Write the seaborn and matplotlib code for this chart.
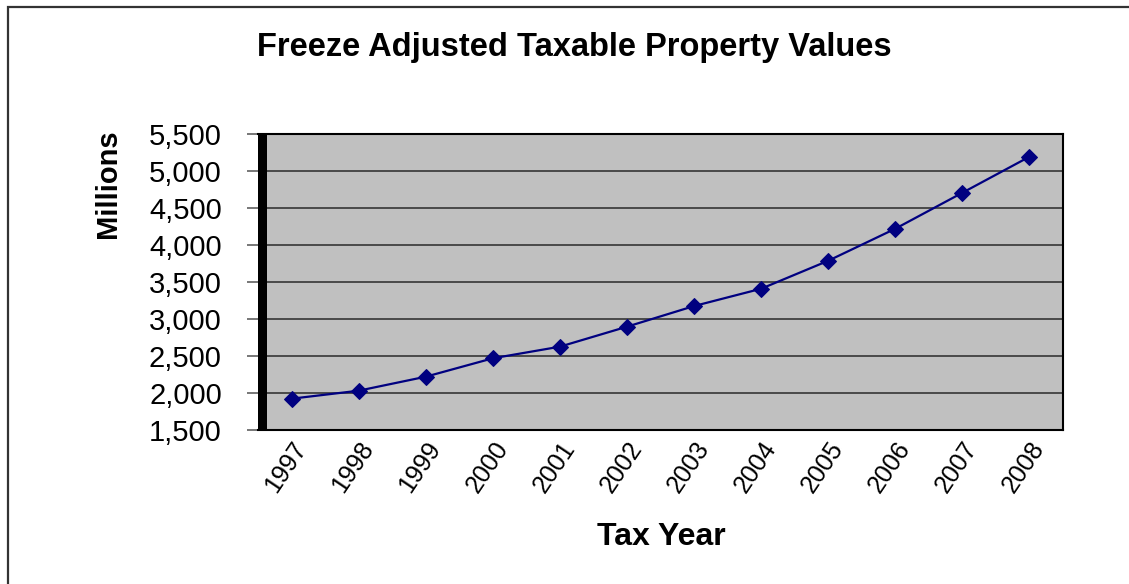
import numpy as np
import pandas as pd
import matplotlib
matplotlib.use("Agg")
import matplotlib.pyplot as plt
import matplotlib.ticker as mticker
from matplotlib.patches import Rectangle
import seaborn as sns

years = ["1997", "1998", "1999", "2000", "2001", "2002",
         "2003", "2004", "2005", "2006", "2007", "2008"]
values = [1923, 2031, 2220, 2469, 2626, 2896,
          3175, 3409, 3787, 4220, 4706, 5193]

df = pd.DataFrame({"year": years, "value": values})

sns.set_style("white")
plt.rcParams["font.family"] = ["Liberation Sans", "DejaVu Sans"]
plt.rcParams["text.color"] = "black"
plt.rcParams["xtick.labelcolor"] = "black"
plt.rcParams["ytick.labelcolor"] = "black"

fig = plt.figure(figsize=(11.29, 5.84), dpi=100)
ax = fig.add_axes([0.2285, 0.2637, 0.713, 0.5068])
ax.set_facecolor("#C0C0C0")

sns.lineplot(data=df, x="year", y="value", sort=False, ax=ax,
             color="#000080", linewidth=1.6, marker="D", markersize=8,
             markeredgecolor="#000080", zorder=3)

ax.set_xlim(-0.5, len(years) - 0.5)
ax.set_ylim(1500, 5500)
ax.yaxis.set_major_locator(mticker.MultipleLocator(500))
ax.yaxis.set_major_formatter(mticker.StrMethodFormatter("{x:,.0f}"))
ax.grid(axis="y", color="#404040", linewidth=1.3)
ax.grid(axis="x", visible=False)
ax.set_axisbelow(True)

# tick marks between categories, labels under each category
ax.xaxis.set_minor_locator(mticker.FixedLocator(np.arange(-0.5, len(years), 1.0)))
ax.tick_params(axis="x", which="major", length=0, pad=5, labelsize=18, rotation=56)
ax.tick_params(axis="x", which="minor", length=6, width=1.2, color="#404040",
               direction="out")
for lbl in ax.get_xticklabels():
    lbl.set_ha("right")
    lbl.set_rotation_mode("anchor")
ax.tick_params(axis="y", which="major", length=8, width=1.2, color="#606060",
               direction="out", labelsize=21, pad=18, left=True)

for side in ["top", "right", "bottom"]:
    ax.spines[side].set_color("black")
    ax.spines[side].set_linewidth(1.5)
ax.spines["left"].set_visible(False)
# thick black left axis band
ax.add_patch(Rectangle((0, 0), 9 / 805, 1, transform=ax.transAxes,
                       facecolor="black", edgecolor="none", zorder=4,
                       clip_on=False))

ax.set_xlabel("")
ax.set_ylabel("")
fig.text(0.509, 0.918, "Freeze Adjusted Taxable Property Values",
         ha="center", va="center", fontsize=23.5, fontweight="bold")
fig.text(0.0955, 0.685, "Millions", rotation=90, ha="center", va="center",
         fontsize=21, fontweight="bold")
fig.text(0.5855, 0.08, "Tax Year", ha="center", va="center",
         fontsize=23, fontweight="bold")

# outer chart border
fig.patches.append(Rectangle((8 / 1129, -0.2), 1.2, 1.2 - 7 / 584,
                             transform=fig.transFigure, fill=False,
                             edgecolor="#333333", linewidth=1.6))

fig.savefig("out.png", dpi=100)
